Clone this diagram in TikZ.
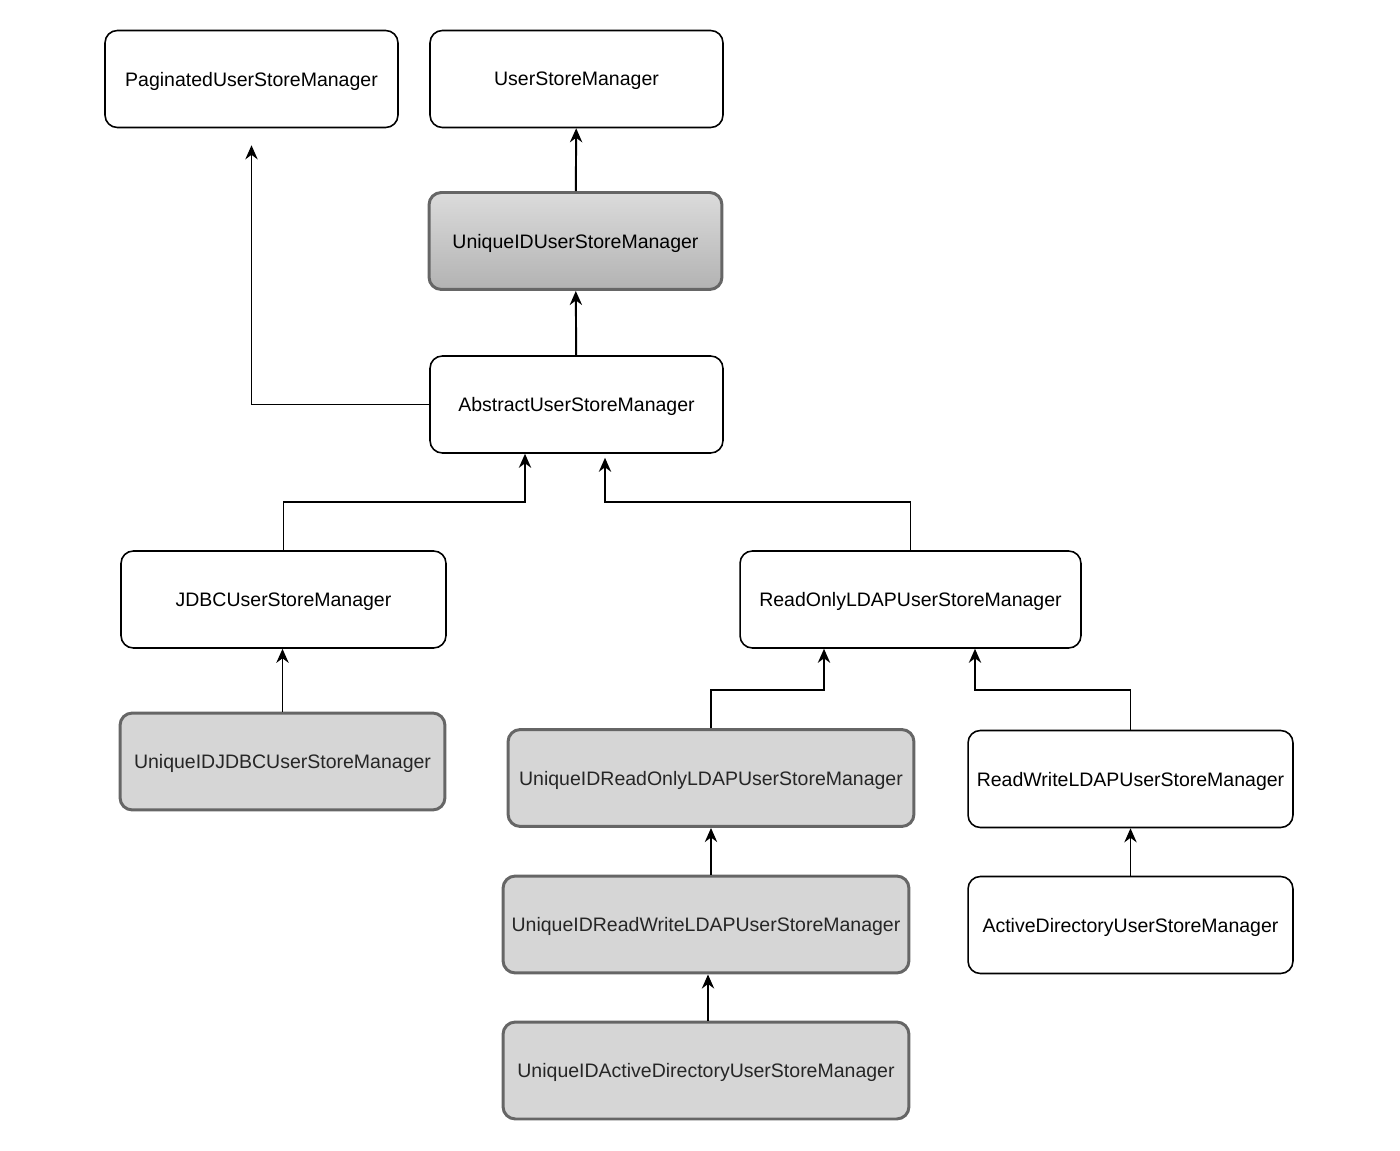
\documentclass[tikz,border=0pt]{standalone}
\usepackage{fontspec}
\setmainfont{Liberation Sans}
\usepackage{tikz}
\usetikzlibrary{arrows.meta,positioning,calc}

\begin{document}
\begin{tikzpicture}[
    x=0.02cm, y=-0.02cm,
    font=\fontsize{11.1}{13}\selectfont,
    classbox/.style={draw, line width=0.9pt, rounded corners=7pt, fill=white, inner sep=0pt, text depth=0pt, minimum height=1.94cm},
    uidbox/.style={draw=black!60, line width=1.7pt, rounded corners=7pt, fill=black!16, text=black!85, inner sep=0pt, text depth=0pt, minimum height=1.94cm},
    arrow/.style={-{Stealth[length=8pt,width=7pt]}, line width=1.1pt}
  ]
  \useasboundingbox (0,0) rectangle (1400,1151);

  % top row
  \node[classbox, minimum width=5.86cm] (pag) at (251.5,79) {PaginatedUserStoreManager};
  \node[classbox, minimum width=5.86cm] (usm) at (576.5,79) {UserStoreManager};
  \node[uidbox, draw=black!60, top color=black!14, bottom color=black!30, text=black, minimum width=5.86cm] (uidusm) at (575.5,241) {UniqueIDUserStoreManager};
  \node[classbox, minimum width=5.86cm] (abs) at (576.5,404.5) {AbstractUserStoreManager};

  % jdbc side
  \node[classbox, minimum width=6.5cm] (jdbc) at (283.5,599.5) {JDBCUserStoreManager};
  \node[uidbox, minimum width=6.5cm] (uidjdbc) at (282.5,761.5) {UniqueIDJDBCUserStoreManager};

  % ldap side
  \node[classbox, minimum width=6.82cm] (rold) at (910.5,599.5) {ReadOnlyLDAPUserStoreManager};
  \node[uidbox, minimum width=8.12cm] (uidrold) at (711,778) {UniqueIDReadOnlyLDAPUserStoreManager};
  \node[classbox, minimum width=6.5cm] (rwld) at (1130.5,779) {ReadWriteLDAPUserStoreManager};
  \node[uidbox, minimum width=8.12cm] (uidrwld) at (706,924.5) {UniqueIDReadWriteLDAPUserStoreManager};
  \node[classbox, minimum width=6.5cm] (ad) at (1130.5,925) {ActiveDirectoryUserStoreManager};
  \node[uidbox, minimum width=8.12cm] (uidad) at (706,1070.5) {UniqueIDActiveDirectoryUserStoreManager};

  \coordinate (pagend) at ($(pag.south)+(0,17)$);

  \draw[arrow] (uidusm) -- (usm);
  \draw[arrow] (abs) -- (uidusm);
  \draw[arrow] (abs.west) -| (pagend);
  \draw[arrow] (jdbc.north) |- (404,502) -| ($(abs.south)+(-51.5,0)$);
  \draw[arrow] (rold.north) |- (760,502) -| ($(abs.south)+(28.5,4)$);
  \draw[arrow] (uidjdbc.north) -- (uidjdbc.north |- jdbc.south);
  \draw[arrow] (uidrold.north) |- (770,690) -| ($(rold.south)+(-86.5,0)$);
  \draw[arrow] (rwld.north) |- (1050,690) -| ($(rold.south)+(64.5,0)$);
  \draw[arrow] (uidrwld.north -| uidrold.north) -- (uidrold.south);
  \draw[arrow] (ad) -- (rwld);
  \draw[arrow] ($(uidad.north)+(2,0)$) -- ($(uidrwld.south)+(2,0)$);
\end{tikzpicture}
\end{document}
